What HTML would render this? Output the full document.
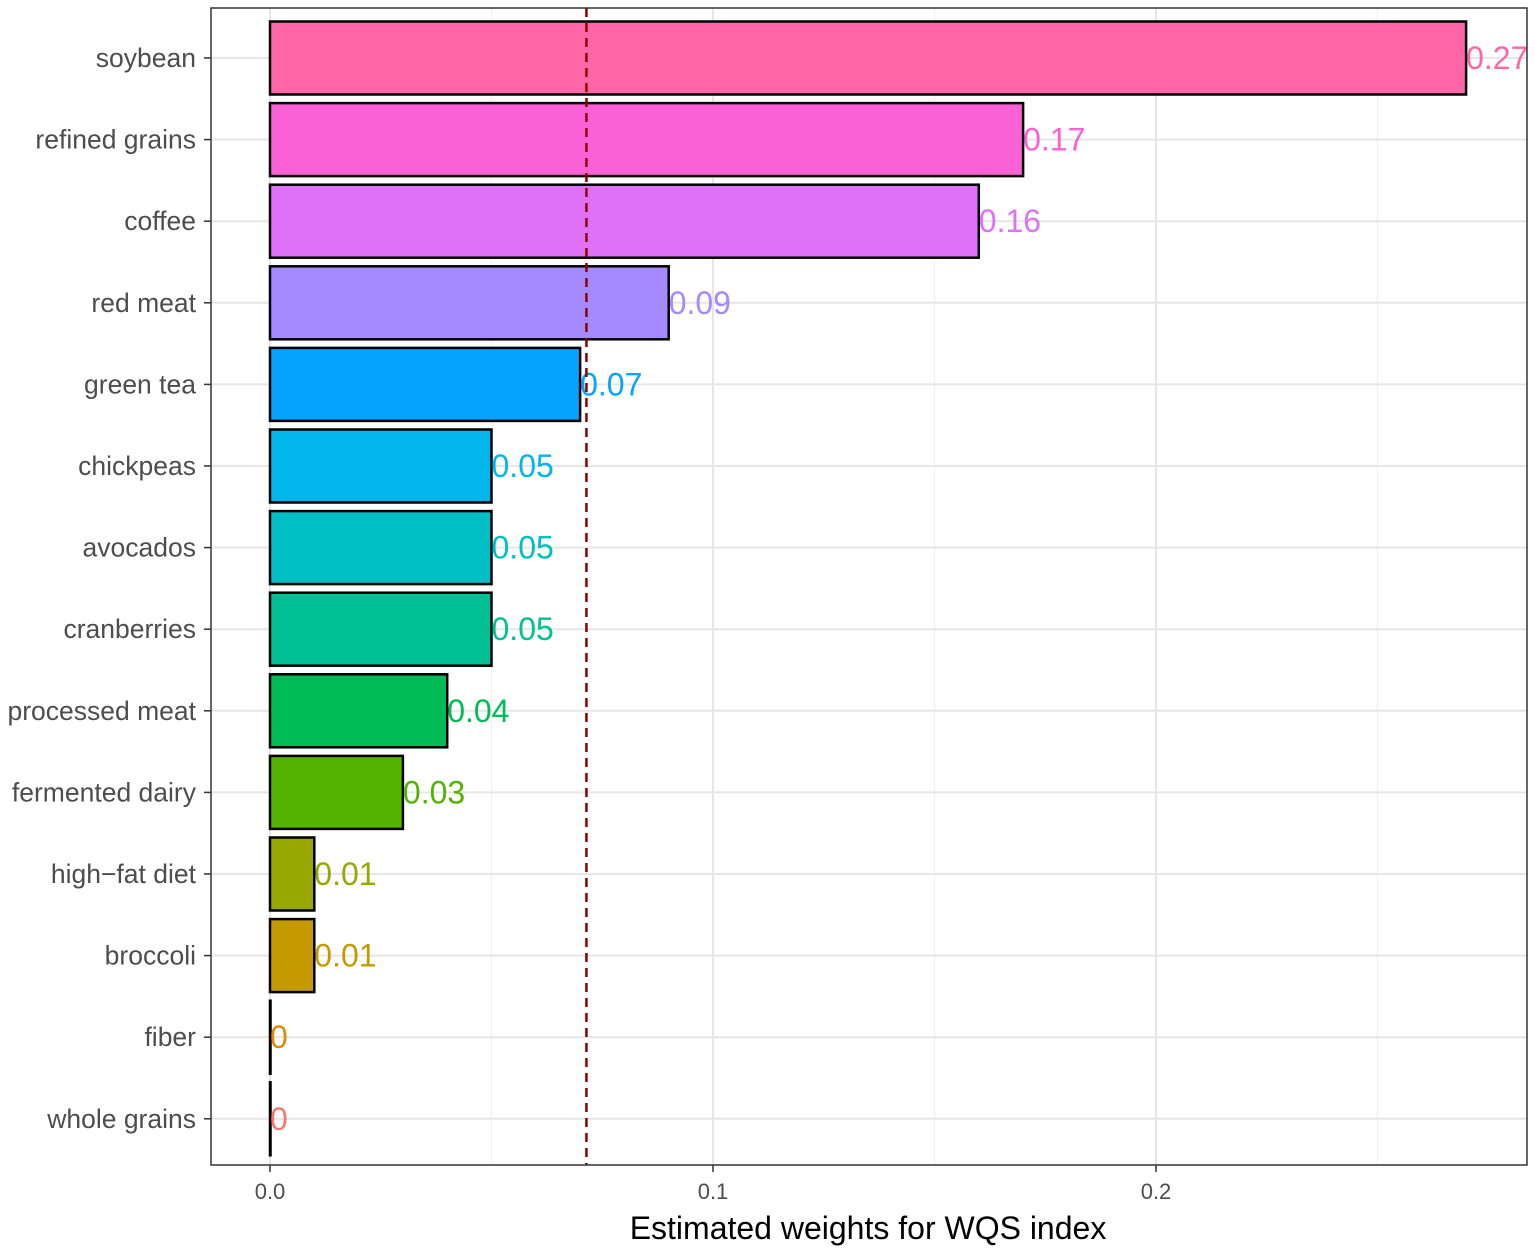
<!DOCTYPE html>
<html><head><meta charset="utf-8"><style>
body{margin:0;background:#fff}
svg{display:block;font-family:"Liberation Sans",Arial,sans-serif}
</style></head><body>
<svg id="chart" width="1535" height="1258" viewBox="0 0 1535 1258" xmlns="http://www.w3.org/2000/svg">
<rect width="1535" height="1258" fill="#fff"/>
<g id="grid"></g>
<g id="bars"></g>
<g id="ref"></g>
<rect x="211" y="8" width="1316" height="1157" fill="none" stroke="#333" stroke-width="1.5"/>
<g id="axes"></g>
<text x="868" y="1239" font-size="32" text-anchor="middle" fill="#000">Estimated weights for WQS index</text>
</svg>
<script>
const categories=["soybean","refined grains","coffee","red meat","green tea","chickpeas","avocados","cranberries","processed meat","fermented dairy","high\u2212fat diet","broccoli","fiber","whole grains"];
const weights=[0.27,0.17,0.16,0.09,0.07,0.05,0.05,0.05,0.04,0.03,0.01,0.01,0.0,0.0];
const valueLabels=["0.27","0.17","0.16","0.09","0.07","0.05","0.05","0.05","0.04","0.03","0.01","0.01","0","0"];
const colors=["#FF66A8","#FB61D7","#DF70F8","#A58AFF","#06A4FF","#00B6EB","#00BFC4","#00C094","#00BC56","#53B400","#99A800","#C49A00","#E38900","#F8766D"];
const xTicks=[0,0.1,0.2];
const xTickLabels=["0.0","0.1","0.2"];
const xMinor=[0.05,0.15,0.25];
const threshold=1/14;
const NS="http://www.w3.org/2000/svg";
const x=v=>270+v*4430;
const y=i=>58+i*81.6;
const bh=73;
function mk(tag,attrs,parent,txt){const e=document.createElementNS(NS,tag);for(const k in attrs)e.setAttribute(k,attrs[k]);if(txt!==undefined)e.textContent=txt;document.getElementById(parent).appendChild(e);return e;}
xMinor.forEach(v=>{const e=mk("line",{x1:x(v),x2:x(v),y1:8,y2:1165,stroke:"#f0f0f0","stroke-width":1.2},"grid");

});
xTicks.forEach((v,i)=>{const e=mk("line",{x1:x(v),x2:x(v),y1:8,y2:1165,stroke:"#e6e6e6","stroke-width":2},"grid");


const t=mk("line",{x1:x(v),x2:x(v),y1:1165,y2:1172,stroke:"#333","stroke-width":1.5},"axes");


const l=mk("text",{x:x(v),y:1199,"font-size":22,"text-anchor":"middle",fill:"#4d4d4d"},"axes",xTickLabels[i]);

});
categories.forEach((c,i)=>{const g=mk("line",{x1:211,x2:1527,y1:y(i),y2:y(i),stroke:"#e6e6e6","stroke-width":2},"grid");


const w=Math.max(x(weights[i])-x(0),0.5);
const r=mk("rect",{x:x(0),y:y(i)-bh/2,width:w,height:bh,fill:colors[i],stroke:"#000","stroke-width":2.5},"bars");


const vl=mk("text",{x:x(weights[i]),y:y(i)+11,"font-size":32,fill:colors[i]},"bars",valueLabels[i]);


const tk=mk("line",{x1:204,x2:211,y1:y(i),y2:y(i),stroke:"#333","stroke-width":1.5},"axes");


const tl=mk("text",{x:196,y:y(i)+9,"font-size":26.5,"text-anchor":"end",fill:"#4d4d4d"},"axes",c);

});
const d=mk("line",{x1:x(threshold),x2:x(threshold),y1:8,y2:1165,stroke:"#8B0000","stroke-width":2.5,"stroke-dasharray":"9,6"},"ref");


</script>
</body></html>
